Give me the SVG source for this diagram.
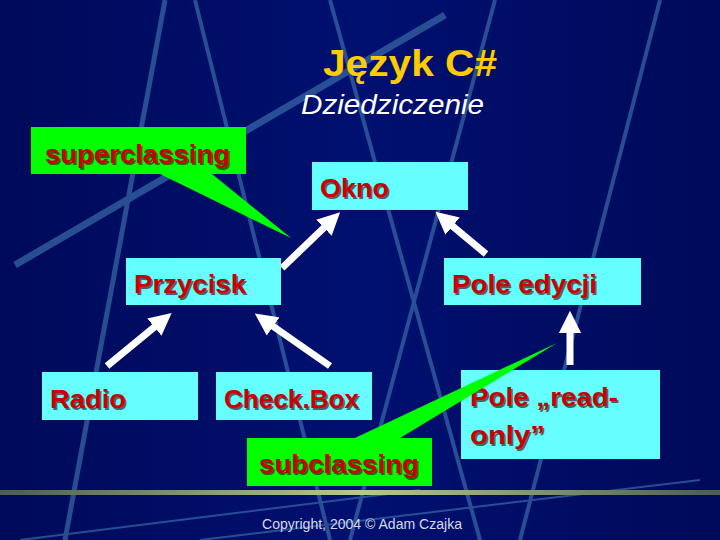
<svg xmlns="http://www.w3.org/2000/svg" width="720" height="540" viewBox="0 0 720 540">
<defs>
<linearGradient id="bg" x1="0" y1="0" x2="1" y2="0">
<stop offset="0" stop-color="#000a5a"/><stop offset="0.5" stop-color="#001070"/><stop offset="1" stop-color="#000a5a"/>
</linearGradient>
<linearGradient id="rule" x1="0" y1="0" x2="1" y2="0">
<stop offset="0" stop-color="#4a5a60"/><stop offset="0.5" stop-color="#b8c890"/><stop offset="1" stop-color="#4a5a60"/>
</linearGradient>
<marker id="ah" viewBox="0 0 10 10" refX="5" refY="5" markerWidth="3.2" markerHeight="3.2" orient="auto" markerUnits="strokeWidth">
<path d="M0,0 L10,5 L0,10 z" fill="#fff"/>
</marker>
</defs>
<style>
.box{fill:#66ffff}
.lbl{font-family:"Liberation Sans",Arial,sans-serif;font-weight:bold;font-size:25px;fill:#cc0000}
.sh{fill:#330000;opacity:.6}
.arr{stroke:#fff;stroke-width:7;fill:none;marker-end:url(#ah)}
.bl{stroke:#3a6aa8;fill:none;opacity:.7}
</style>
<rect width="720" height="540" fill="url(#bg)"/>
<g class="bl">
<line x1="165" y1="0" x2="65" y2="540" stroke-width="5"/>
<line x1="195" y1="0" x2="330" y2="540" stroke-width="4"/>
<line x1="330" y1="0" x2="480" y2="540" stroke-width="4"/>
<line x1="495" y1="0" x2="350" y2="540" stroke-width="4"/>
<line x1="660" y1="0" x2="520" y2="540" stroke-width="4"/>
<line x1="15" y1="265" x2="445" y2="15" stroke-width="7"/>
<line x1="20" y1="540" x2="420" y2="490" stroke-width="2"/>
<line x1="200" y1="540" x2="700" y2="480" stroke-width="2"/>
</g>
<rect x="0" y="490" width="720" height="5" fill="url(#rule)"/>
<text x="323" y="76" textLength="174" lengthAdjust="spacingAndGlyphs" font-family="Liberation Sans,Arial,sans-serif" font-weight="bold" font-size="36" fill="#ffcc00">Język C#</text>
<text x="301" y="114" textLength="183" lengthAdjust="spacingAndGlyphs" font-family="Liberation Sans,Arial,sans-serif" font-style="italic" font-size="27" fill="#ffffff">Dziedziczenie</text>
<g id="connectors">
<line class="arr" x1="282" y1="268" x2="332" y2="220"/>
<line class="arr" x1="486" y1="254" x2="444" y2="219"/>
<line class="arr" x1="107" y1="366" x2="163" y2="320"/>
<line class="arr" x1="330" y1="366" x2="264" y2="320"/>
<line class="arr" x1="570" y1="365" x2="570" y2="322"/>
</g>
<g id="superclassing">
<path d="M31,127 H246 V174 H212 L291,238 L160,174 H31 Z" fill="#00ff00"/>
<text class="lbl sh" x="46.5" y="164.5" textLength="185" lengthAdjust="spacingAndGlyphs">superclassing</text>
<text class="lbl" x="45" y="163" textLength="185" lengthAdjust="spacingAndGlyphs">superclassing</text>
</g>
<g id="okno"><rect class="box" x="312" y="162" width="156" height="48"/>
<text class="lbl sh" x="321.5" y="198.5" textLength="69" lengthAdjust="spacingAndGlyphs">Okno</text><text class="lbl" x="320" y="197" textLength="69" lengthAdjust="spacingAndGlyphs">Okno</text></g>
<g id="przycisk"><rect class="box" x="126" y="258" width="155" height="47"/>
<text class="lbl sh" x="135.5" y="294.5" textLength="112" lengthAdjust="spacingAndGlyphs">Przycisk</text><text class="lbl" x="134" y="293" textLength="112" lengthAdjust="spacingAndGlyphs">Przycisk</text></g>
<g id="poleedycji"><rect class="box" x="444" y="258" width="197" height="47"/>
<text class="lbl sh" x="453.5" y="294.5" textLength="145" lengthAdjust="spacingAndGlyphs">Pole edycji</text><text class="lbl" x="452" y="293" textLength="145" lengthAdjust="spacingAndGlyphs">Pole edycji</text></g>
<g id="radio"><rect class="box" x="42" y="372" width="156" height="48"/>
<text class="lbl sh" x="51.5" y="409.5" textLength="76" lengthAdjust="spacingAndGlyphs">Radio</text><text class="lbl" x="50" y="408" textLength="76" lengthAdjust="spacingAndGlyphs">Radio</text></g>
<g id="checkbox"><rect class="box" x="216" y="372" width="156" height="48"/>
<text class="lbl sh" x="225.5" y="409.5" textLength="135" lengthAdjust="spacingAndGlyphs">Check.Box</text><text class="lbl" x="224" y="408" textLength="135" lengthAdjust="spacingAndGlyphs">Check.Box</text></g>
<g id="readonly"><rect class="box" x="461" y="370" width="199" height="89"/>
<text class="lbl sh" x="471.5" y="407.5" textLength="148" lengthAdjust="spacingAndGlyphs">Pole „read-</text><text class="lbl" x="470" y="406" textLength="148" lengthAdjust="spacingAndGlyphs">Pole „read-</text>
<text class="lbl sh" x="471.5" y="445.5" textLength="75" lengthAdjust="spacingAndGlyphs">only”</text><text class="lbl" x="470" y="444" textLength="75" lengthAdjust="spacingAndGlyphs">only”</text></g>
<g id="subclassing">
<path d="M247,438 H355 L557,343 L400,438 H432 V486 H247 Z" fill="#00ff00"/>
<text class="lbl sh" x="260.5" y="474.5" textLength="160" lengthAdjust="spacingAndGlyphs">subclassing</text>
<text class="lbl" x="259" y="473" textLength="160" lengthAdjust="spacingAndGlyphs">subclassing</text>
</g>
<text x="262" y="529" textLength="200" lengthAdjust="spacingAndGlyphs" font-family="Liberation Sans,Arial,sans-serif" font-size="14" fill="#d8d8e8">Copyright, 2004 © Adam Czajka</text>
</svg>
